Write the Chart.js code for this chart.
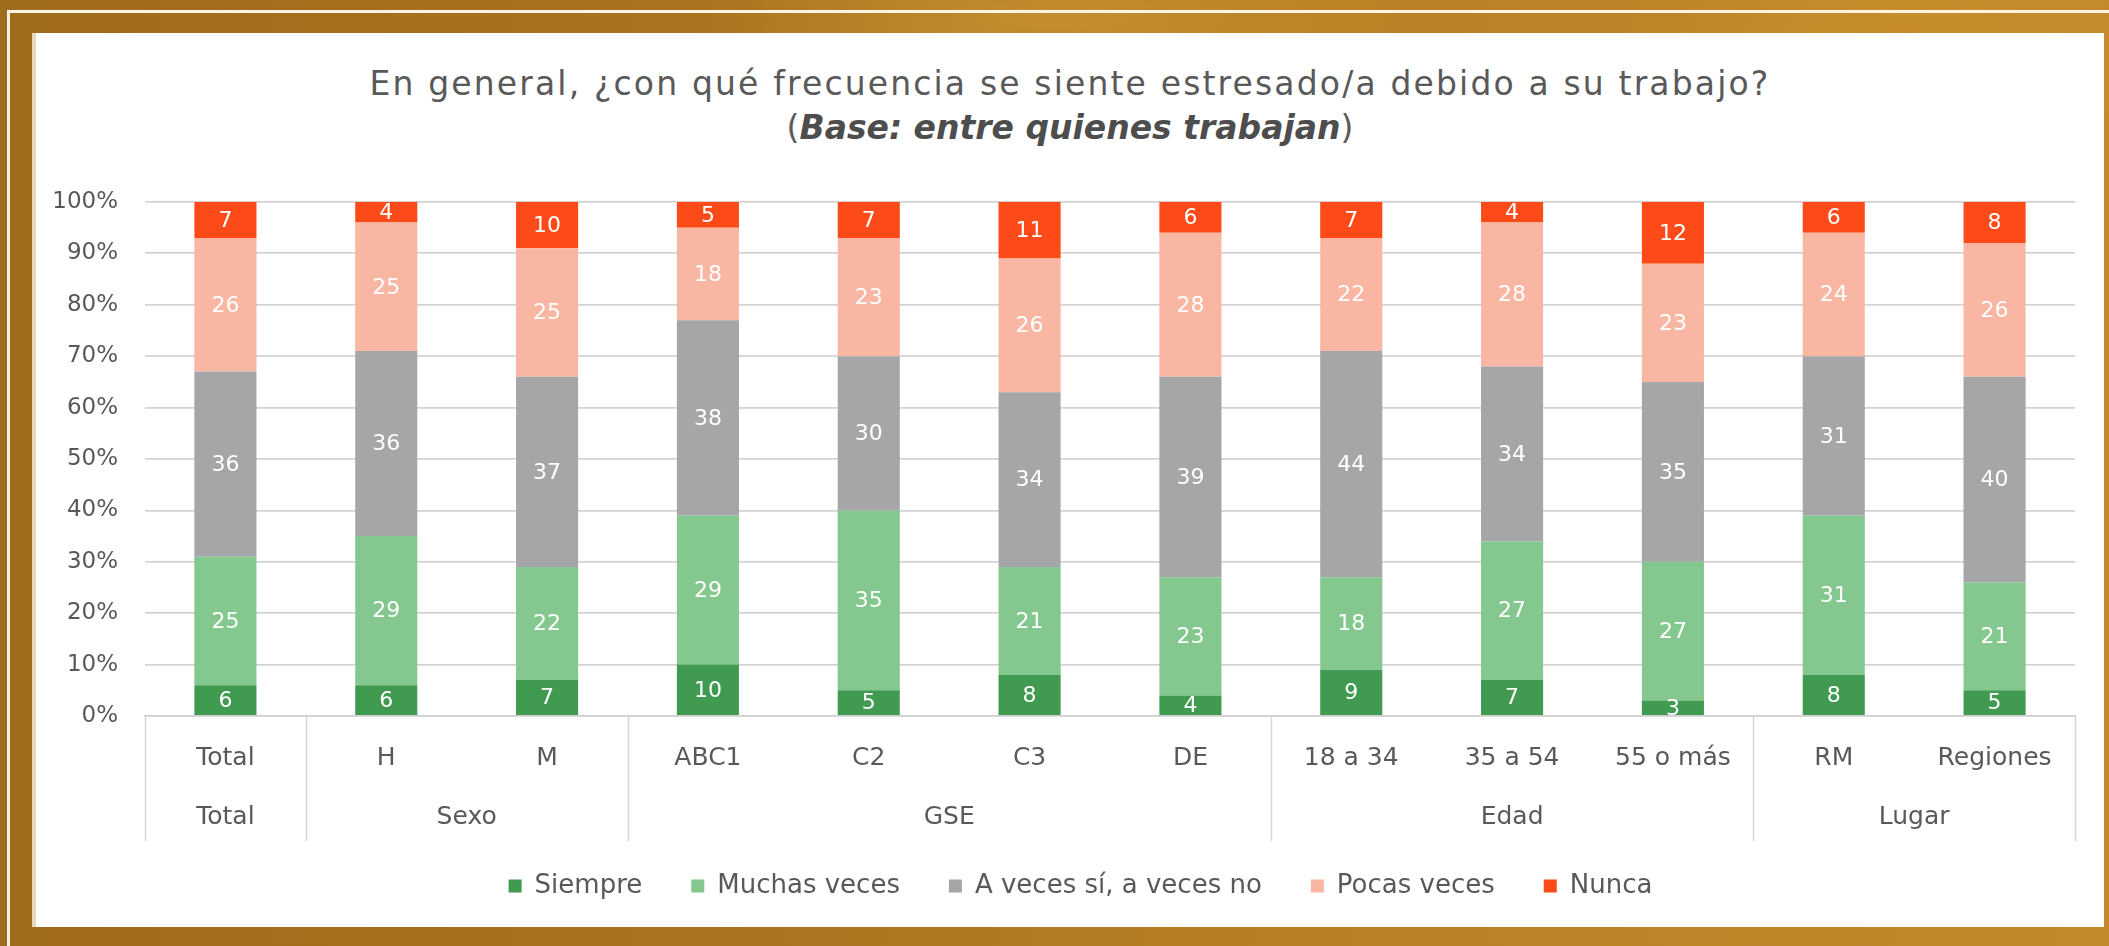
<!DOCTYPE html>
<html lang="es">
<head>
<meta charset="utf-8">
<script src="https://cdn.jsdelivr.net/npm/chart.js@4.4.1/dist/chart.umd.min.js"></script>
<style>
  html, body { margin: 0; padding: 0; }
  body {
    width: 2109px; height: 946px; overflow: hidden; position: relative;
    background:
      radial-gradient(ellipse 520px 120px at 1050px 20px, rgba(220,165,60,0.45), rgba(220,165,60,0) 70%),
      radial-gradient(ellipse 400px 300px at 1900px 60px, rgba(210,150,45,0.5), rgba(210,150,45,0) 70%),
      linear-gradient(90deg, #9f6b1c 0%, #aa741f 35%, #ba8023 65%, #c2882a 100%);
  }
  .frame {
    position: absolute; left: 7px; top: 10px; width: 2300px; height: 1100px;
    border: 3px solid #fbf3e4; box-sizing: border-box;
  }
  .card {
    position: absolute; left: 36px; top: 33px; width: 2068px; height: 894px;
    background: #ffffff; box-shadow: -4px 0 0 #ead7ba;
  }
  .title {
    position: absolute; left: 36px; top: 62px; width: 2068px;
    text-align: center; color: #595959;
    font-family: "DejaVu Sans", sans-serif; font-size: 33px; line-height: 44px;
  }
  .title .l1 { letter-spacing: 2.15px; }
  .title b { font-weight: bold; font-style: italic; color: #4d4d4d; }
  #chart { position: absolute; left: 36px; top: 150px; }
</style>
</head>
<body>
<div class="frame"></div>
<div class="card"></div>
<div class="title">
  <div class="l1">En general, ¿con qué frecuencia se siente estresado/a debido a su trabajo?</div>
  <div class="l2">(<b>Base: entre quienes trabajan</b>)</div>
</div>
<canvas id="chart" width="2068" height="796"></canvas>
<script>
// categories and their groups
const categories = ["Total", "H", "M", "ABC1", "C2", "C3", "DE", "18 a 34", "35 a 54", "55 o más", "RM", "Regiones"];
const groupNames = ["Total", "Sexo", "GSE", "Edad", "Lugar"];
const groupSizes = [1, 2, 4, 3, 2];

// series values (%)
const siempre = [6, 6, 7, 10, 5, 8, 4, 9, 7, 3, 8, 5];
const muchasVeces = [25, 29, 22, 29, 35, 21, 23, 18, 27, 27, 31, 21];
const aVeces = [36, 36, 37, 38, 30, 34, 39, 44, 34, 35, 31, 40];
const pocasVeces = [26, 25, 25, 18, 23, 26, 28, 22, 28, 23, 24, 26];
const nunca = [7, 4, 10, 5, 7, 11, 6, 7, 4, 12, 6, 8];

const yTicks = [0, 10, 20, 30, 40, 50, 60, 70, 80, 90, 100];

const FONT = "'DejaVu Sans', sans-serif";
const TEXT = "#595959";

const barLabels = {
    id: "barLabels",
    afterDatasetsDraw(chart) {
        const ctx = chart.ctx;
        ctx.save();
        ctx.font = "22px " + FONT;
        ctx.fillStyle = "#ffffff";
        ctx.textAlign = "center";
        ctx.textBaseline = "middle";
        chart.data.datasets.forEach((ds, di) => {
            const meta = chart.getDatasetMeta(di);
            meta.data.forEach((el, i) => {
                const top = Math.max(el.y, chart.chartArea.top);
                ctx.fillText(String(ds.data[i]), el.x, (top + el.base) / 2 + 1);
            });
        });
        ctx.restore();
    }
};

// legend sits a little right of the canvas centre in the original
const legendShift = {
    id: "legendShift",
    afterLayout(chart) {
        chart.legend.left += 25;
        chart.legend.right += 25;
    }
};

const groupAxis = {
    id: "groupAxis",
    afterDraw(chart) {
        const ctx = chart.ctx;
        const x = chart.scales.x;
        const area = chart.chartArea;
        const half = (x.getPixelForValue(1) - x.getPixelForValue(0)) / 2;
        const lineBottom = area.bottom + 125;
        ctx.save();
        ctx.strokeStyle = "#d6d6d6";
        ctx.lineWidth = 1.5;
        ctx.font = "25px " + FONT;
        ctx.fillStyle = TEXT;
        ctx.textAlign = "center";
        ctx.textBaseline = "middle";
        let start = 0;
        const edges = [area.left];
        groupSizes.forEach((n, g) => {
            const end = start + n - 1;
            const cx = (x.getPixelForValue(start) + x.getPixelForValue(end)) / 2;
            ctx.fillText(groupNames[g], cx, area.bottom + 101);
            edges.push(x.getPixelForValue(end) + half);
            start += n;
        });
        edges[edges.length - 1] = area.right;
        edges.forEach((ex) => {
            ctx.beginPath();
            ctx.moveTo(Math.round(ex) + 0.5, area.bottom);
            ctx.lineTo(Math.round(ex) + 0.5, lineBottom);
            ctx.stroke();
        });
        ctx.restore();
    }
};

const makeSet = (label, data, color) => ({
    label,
    data,
    backgroundColor: color,
    borderWidth: 0,
    categoryPercentage: 1,
    barPercentage: 0.386
});

new Chart(document.getElementById("chart"), {
    type: "bar",
    data: {
        labels: categories,
        datasets: [
            makeSet("Siempre", siempre, "#409b50"),
            makeSet("Muchas veces", muchasVeces, "#85c88f"),
            makeSet("A veces sí, a veces no", aVeces, "#a6a6a8"),
            makeSet("Pocas veces", pocasVeces, "#f9b6a2"),
            makeSet("Nunca", nunca, "#fc4b18")
        ]
    },
    options: {
        responsive: false,
        animation: false,
        layout: { padding: { left: 0, right: 29, top: 52, bottom: 37 } },
        plugins: {
            legend: {
                position: "bottom",
                labels: {
                    boxWidth: 13,
                    boxHeight: 13,
                    padding: 49,
                    color: TEXT,
                    font: { family: FONT, size: 26 }
                }
            },
            tooltip: { enabled: false },
            title: { display: false }
        },
        scales: {
            x: {
                stacked: true,
                grid: { display: false },
                border: { display: true, color: "#cfcfcf", width: 1.5 },
                ticks: {
                    color: TEXT,
                    font: { family: FONT, size: 25 },
                    padding: 19,
                    maxRotation: 0,
                    autoSkip: false
                },
                afterFit: (s) => { s.height = 108; }
            },
            y: {
                stacked: true,
                min: 0,
                max: 100,
                afterBuildTicks: (s) => { s.ticks = yTicks.map((v) => ({ value: v })); },
                ticks: {
                    color: TEXT,
                    font: { family: FONT, size: 23 },
                    padding: 27,
                    callback: (v) => v + "%"
                },
                grid: { color: "#d3d3d3", lineWidth: 1.8, drawTicks: false },
                border: { display: false },
                afterFit: (s) => { s.width = 109; }
            }
        }
    },
    plugins: [barLabels, groupAxis, legendShift]
});
</script>
</body>
</html>
